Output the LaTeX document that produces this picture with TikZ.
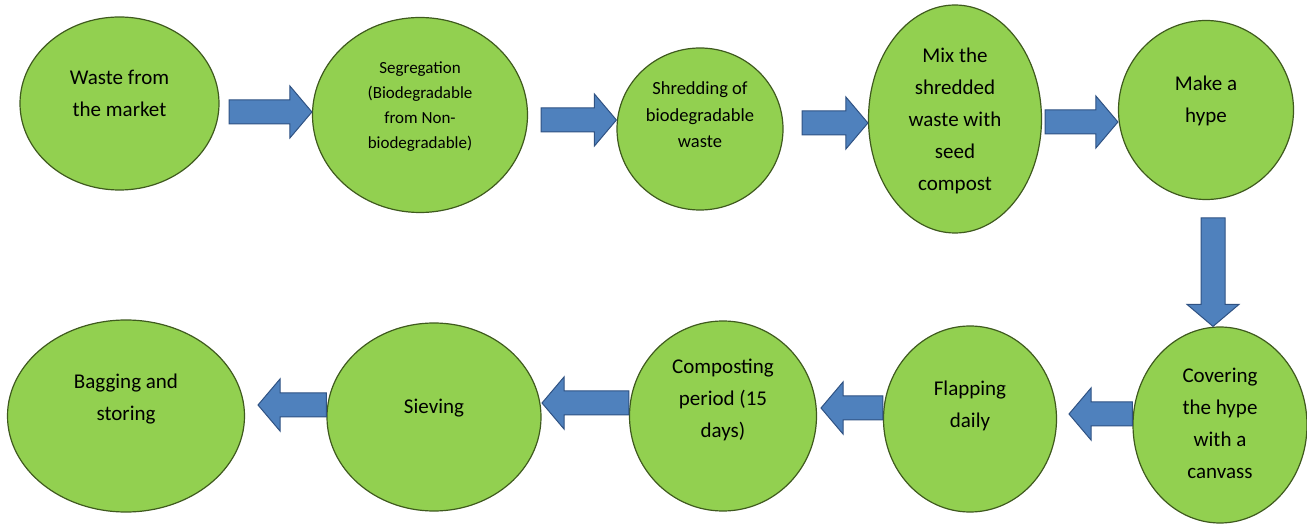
\documentclass[tikz,border=0pt]{standalone}
\usepackage{fontspec}
\setmainfont{Carlito}
\usetikzlibrary{calc, shapes.geometric}

\definecolor{leafgreen}{HTML}{92D050}
\definecolor{leafedge}{HTML}{3F5A1E}
\definecolor{arrowblue}{HTML}{4F81BD}
\definecolor{arrowedge}{HTML}{2F5283}

\tikzset{
  stage/.style={ellipse, fill=leafgreen, draw=leafedge, line width=1.2pt, inner sep=0pt},
  stagetext/.style={align=center, inner sep=0pt, font=\fontsize{21}{32}\selectfont},
  flowarrow/.style={fill=arrowblue, draw=arrowedge, line width=1pt, line join=miter,
    to path={
      ($(\tikztostart)!12pt!90:(\tikztotarget)$)
      -- ($(\tikztotarget)!22pt!(\tikztostart)!12pt!-90:(\tikztostart)$)
      -- ($(\tikztotarget)!22pt!(\tikztostart)!26pt!-90:(\tikztostart)$)
      -- (\tikztotarget)
      -- ($(\tikztotarget)!22pt!(\tikztostart)!26pt!90:(\tikztostart)$)
      -- ($(\tikztotarget)!22pt!(\tikztostart)!12pt!90:(\tikztostart)$)
      -- ($(\tikztostart)!12pt!-90:(\tikztotarget)$) -- cycle}}
}

\begin{document}
\begin{tikzpicture}[x=1pt, y=-1pt]
  \useasboundingbox (0,0) rectangle (1307,526);

  % top row, left to right
  \node[stage, minimum width=199pt, minimum height=173pt] (waste) at (119.5,103.5) {};
  \node[stage, minimum width=215pt, minimum height=195pt] (segr) at (420,115) {};
  \node[stage, minimum width=166pt, minimum height=162pt] (shred) at (700,129) {};
  \node[stage, minimum width=173pt, minimum height=228pt] (mix) at (955,119) {};
  \node[stage, minimum width=175pt, minimum height=179pt] (hype) at (1206,110) {};

  % bottom row, right to left
  \node[stage, minimum width=174pt, minimum height=196pt] (cover) at (1220,425) {};
  \node[stage, minimum width=173pt, minimum height=186pt] (flap) at (970,419) {};
  \node[stage, minimum width=187pt, minimum height=190pt] (compost) at (723,416) {};
  \node[stage, minimum width=214pt, minimum height=188pt] (sieve) at (434,417) {};
  \node[stage, minimum width=237pt, minimum height=192pt] (bag) at (126,416) {};

  % texts
  \node[stagetext] (waste-t) at ([yshift=10pt]waste.center) {Waste from\\the market};
  \node[stagetext, font=\fontsize{17}{25}\selectfont] (segr-t) at ([yshift=8pt]segr.center)
    {Segregation\\(Biodegradable\\from Non-\\biodegradable)};
  \node[stagetext, font=\fontsize{18.5}{26.5}\selectfont] (shred-t) at ([yshift=14pt]shred.center)
    {Shredding of\\biodegradable\\waste};
  \node[stagetext] (mix-t) at ([yshift=-2pt]mix.center) {Mix the\\shredded\\waste with\\seed\\compost};
  \node[stagetext] (hype-t) at ([yshift=9pt]hype.center) {Make a\\hype};
  \node[stagetext] (cover-t) at ([yshift=2pt]cover.center) {Covering\\the hype\\with a\\canvass};
  \node[stagetext] (flap-t) at ([yshift=13pt]flap.center) {Flapping\\daily};
  \node[stagetext] (compost-t) at ([yshift=16pt]compost.center) {Composting\\period (15\\days)};
  \node[stagetext] (sieve-t) at ([yshift=9pt]sieve.center) {Sieving};
  \node[stagetext] (bag-t) at ([yshift=17pt]bag.center) {Bagging and\\storing};

  % free ends of the block arrows
  \coordinate (a1) at (229,112);
  \coordinate (a2) at (541,120);
  \coordinate (a3) at (802,123);
  \coordinate (a4) at (1045,122);
  \coordinate (a5) at (1213,218);
  \coordinate (a6) at (1069,414);
  \coordinate (a7) at (821,408);
  \coordinate (a8) at (542,403);
  \coordinate (a9) at (258,405);

  % arrows
  \draw[flowarrow] (a1) to (a1 -| segr.west);
  \draw[flowarrow] (a2) to (a2 -| shred.west);
  \draw[flowarrow] (a3) to (a3 -| mix.west);
  \draw[flowarrow] (a4) to (a4 -| hype.west);
  \draw[flowarrow] (a5) to (a5 |- cover.north);
  \draw[flowarrow] (a6 -| cover.west) to (a6);
  \draw[flowarrow] (a7 -| flap.west) to (a7);
  \draw[flowarrow] (a8 -| compost.west) to (a8);
  \draw[flowarrow] (a9 -| sieve.west) to (a9);
\end{tikzpicture}
\end{document}
